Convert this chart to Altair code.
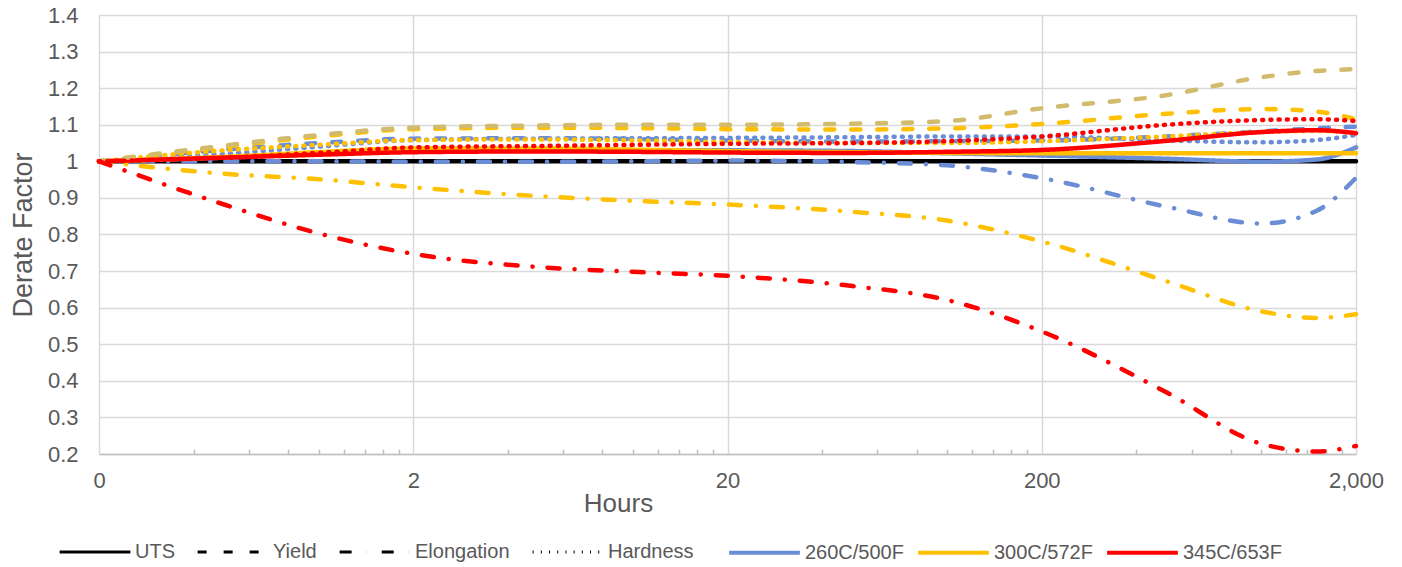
import altair as alt
import pandas as pd

# ---------------- data ----------------
hours = [0.2, 0.5, 1, 2, 5, 10, 20, 50, 100, 200, 500, 1000, 1500, 2000]

base_uts = [1.0, 1.0, 1.0, 1.0, 1.0, 1.0, 1.0, 1.0, 1.0, 1.0, 1.0, 1.0, 1.0, 1.0]

c260_uts = [1.0, 1.01, 1.02, 1.028, 1.03, 1.03, 1.03, 1.028, 1.022, 1.016, 1.007, 0.999, 1.005, 1.038]
c260_yield = [1.0, 1.032, 1.05, 1.062, 1.063, 1.061, 1.057, 1.054, 1.055, 1.057, 1.068, 1.082, 1.09, 1.095]
c260_elong = [1.0, 1.0, 1.0, 0.999, 0.999, 1.0, 1.002, 0.998, 0.989, 0.954, 0.876, 0.83, 0.865, 0.955]
c260_hard = [1.0, 1.02, 1.04, 1.058, 1.062, 1.063, 1.064, 1.066, 1.068, 1.068, 1.057, 1.052, 1.058, 1.072]

c300_uts = [1.0, 1.012, 1.025, 1.035, 1.035, 1.032, 1.028, 1.025, 1.023, 1.022, 1.022, 1.022, 1.022, 1.022]
c300_yield = [1.0, 1.04, 1.068, 1.088, 1.092, 1.091, 1.088, 1.087, 1.09, 1.102, 1.13, 1.143, 1.136, 1.115]
c300_elong = [1.0, 0.966, 0.951, 0.929, 0.905, 0.892, 0.882, 0.862, 0.838, 0.781, 0.672, 0.59, 0.572, 0.582]
c300_hard = [1.0, 1.03, 1.045, 1.058, 1.06, 1.057, 1.053, 1.05, 1.05, 1.055, 1.068, 1.08, 1.083, 1.077]

c345_uts = [1.0, 1.01, 1.018, 1.025, 1.027, 1.026, 1.024, 1.023, 1.026, 1.031, 1.056, 1.08, 1.085, 1.077]
c345_yield = [1.0, 1.043, 1.072, 1.092, 1.098, 1.1, 1.1, 1.103, 1.11, 1.145, 1.181, 1.23, 1.247, 1.252]
c345_elong = [1.0, 0.882, 0.803, 0.747, 0.711, 0.698, 0.687, 0.659, 0.621, 0.535, 0.368, 0.228, 0.207, 0.222]
c345_hard = [1.0, 1.01, 1.023, 1.038, 1.042, 1.045, 1.048, 1.05, 1.055, 1.068, 1.1, 1.113, 1.115, 1.11]

temps = ["260C/500F", "300C/572F", "345C/653F"]
props = ["UTS", "Yield", "Elongation", "Hardness"]

x_major = [0.2, 2, 20, 200, 2000]
x_minor = [0.4, 0.6, 0.8, 1, 1.2, 1.4, 1.6, 1.8,
           4, 6, 8, 10, 12, 14, 16, 18,
           40, 60, 80, 100, 120, 140, 160, 180,
           400, 600, 800, 1000, 1200, 1400, 1600, 1800]
y_ticks = [0.2, 0.3, 0.4, 0.5, 0.6, 0.7, 0.8, 0.9, 1.0, 1.1, 1.2, 1.3, 1.4]

# series table: (id, colour key, property, values)
series = [
    ("base", "Base", "UTS", base_uts),
    ("260u", "260C/500F", "UTS", c260_uts),
    ("260y", "260C/500F", "Yield", c260_yield),
    ("260e", "260C/500F", "Elongation", c260_elong),
    ("260h", "260C/500F", "Hardness", c260_hard),
    ("300u", "300C/572F", "UTS", c300_uts),
    ("300y", "300C/572F", "Yield", c300_yield),
    ("300e", "300C/572F", "Elongation", c300_elong),
    ("300h", "300C/572F", "Hardness", c300_hard),
    ("345u", "345C/653F", "UTS", c345_uts),
    ("345y", "Tan", "Yield", c345_yield),
    ("345e", "345C/653F", "Elongation", c345_elong),
    ("345h", "345C/653F", "Hardness", c345_hard),
]

rows = []
for i, (sid, col, prop, vals) in enumerate(series):
    for h, v in zip(hours, vals):
        rows.append({"sid": f"{i:02d}{sid}", "col": col, "prop": prop, "hours": h, "value": v})
df = pd.DataFrame(rows)

GRID = "#D9D9D9"
TXT = "#595959"

col_domain = temps + ["Tan", "Base"]
col_range = ["#6B8DD6", "#FFC000", "#FF0000", "#D2BB6C", "#000000"]
dash_range = [[1, 0], [9, 17], [12, 15, 0.1, 15], [1, 7.2]]

x_enc = alt.X(
    "hours:Q",
    scale=alt.Scale(type="log", domain=[0.2, 2000], nice=False),
    axis=alt.Axis(
        orient="bottom",
        values=x_major, format=",.0f", grid=True, gridColor=GRID, gridWidth=1.5,
        ticks=False, tickSize=0, domainColor="#BFBFBF", domainWidth=1.5,
        labelFontSize=22, labelColor=TXT, labelPadding=16, labelFlush=False,
        title="Hours", titleFontSize=26, titleFontWeight="normal", titleColor=TXT,
        titleX=519, titleY=57, titleAlign="center", titleBaseline="alphabetic",
    ),
)
y_enc = alt.Y(
    "value:Q",
    scale=alt.Scale(domain=[0.2, 1.4], nice=False, zero=False),
    axis=alt.Axis(
        orient="left",
        values=y_ticks, format=".1~f", grid=True, gridColor=GRID, gridWidth=1.5,
        ticks=False, tickSize=0, domain=False,
        labelFontSize=22, labelColor=TXT, labelPadding=21,
        title="Derate Factor", titleFontSize=27, titleFontWeight="normal", titleColor=TXT,
        titleX=-68, titleY=219.5, titleAngle=270, titleAlign="center", titleBaseline="alphabetic",
    ),
)

lines = alt.Chart(df).mark_line(strokeWidth=4.5, strokeCap="round", interpolate="monotone").encode(
    x=x_enc,
    y=y_enc,
    color=alt.Color(
        "col:N",
        scale=alt.Scale(domain=col_domain, range=col_range),
        legend=alt.Legend(
            values=temps, title=None, orient="none", legendX=628, legendY=500,
            direction="horizontal", columns=3, symbolType="stroke", symbolSize=5000,
            symbolStrokeWidth=4, labelFontSize=20, labelColor=TXT, labelOffset=3,
            columnPadding=6, padding=0,
        ),
    ),
    strokeDash=alt.StrokeDash(
        "prop:N",
        scale=alt.Scale(domain=props, range=dash_range),
        legend=alt.Legend(
            values=props, title=None, orient="none", legendX=-41, legendY=500,
            direction="horizontal", columns=4, symbolType="stroke", symbolSize=5000,
            symbolStrokeWidth=3, symbolStrokeColor="black", labelFontSize=20,
            labelColor=TXT, labelOffset=3, columnPadding=16, padding=0,
        ),
    ),
    detail="sid:N",
)

minor = alt.Chart(df).mark_point(opacity=0).encode(
    x=alt.X(
        "hours:Q",
        axis=alt.Axis(
            orient="bottom",
            values=x_minor, labels=False, grid=False, domain=False, ticks=True,
            tickSize=5, tickColor="#BFBFBF", tickWidth=1.5, offset=-5, title=None,
        ),
    ),
)

chart = (
    alt.layer(lines, minor)
    .resolve_axis(x="independent")
    .properties(
        width=1257, height=439,
        padding={"left": 99, "top": 15, "right": 46, "bottom": 113},
        autosize=alt.AutoSizeParams(type="none"),
    )
    .configure(font="Liberation Sans")
    .configure_view(stroke=None)
)

chart.save("out.html", embed_options={"renderer": "svg", "actions": False})
